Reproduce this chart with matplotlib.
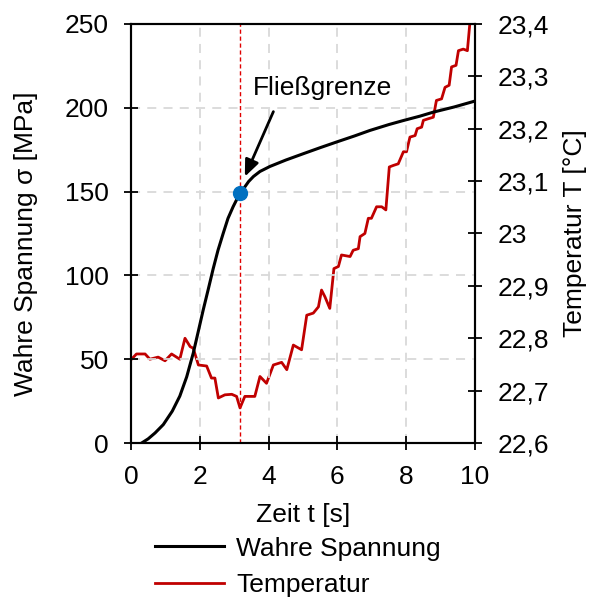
import matplotlib
matplotlib.use("Agg")
import matplotlib.pyplot as plt
from matplotlib.ticker import FuncFormatter

plt.rcParams['font.family'] = ['Liberation Sans', 'DejaVu Sans']

# True stress over time
t_stress = [0.31, 0.5, 0.7, 0.94, 1.2, 1.42, 1.62, 1.81, 1.95, 2.10, 2.25, 2.39,
            2.53, 2.68, 2.82, 2.97, 3.08, 3.19, 3.30, 3.42, 3.56, 3.75, 4.04,
            4.5, 5.01, 5.5, 5.98, 6.5, 6.95, 7.5, 7.92, 8.4, 8.79, 9.4, 10.0]
sigma = [0.0, 2.5, 6.0, 11.0, 19.0, 28.0, 39.5, 53.6, 66.0, 79.4, 92.0, 104.0,
         115.0, 125.0, 134.0, 141.0, 145.5, 149.0, 152.5, 156.0, 159.0, 162.0, 165.0,
         168.8, 172.6, 176.2, 179.6, 183.2, 186.5, 190.0, 192.4, 195.0, 197.4, 200.5, 204.0]

# Specimen temperature over time
t_temp = [0.0, 0.16, 0.41, 0.55, 0.79, 0.99, 1.18, 1.42, 1.57, 1.72, 1.81, 1.96,
          2.20, 2.34, 2.44, 2.54, 2.73, 2.93, 3.07, 3.17, 3.31, 3.60, 3.75, 3.94,
          4.14, 4.38, 4.53, 4.72, 4.96, 5.11, 5.30, 5.45, 5.54, 5.64, 5.78, 5.90,
          6.03, 6.12, 6.37, 6.46, 6.61, 6.66, 6.80, 6.90, 6.99, 7.14, 7.29, 7.41,
          7.51, 7.63, 7.77, 7.92, 8.01, 8.11, 8.26, 8.32, 8.45, 8.50, 8.64, 8.79,
          8.88, 9.03, 9.13, 9.25, 9.32, 9.45, 9.52, 9.66, 9.78, 9.85, 9.92]
temp = [22.759, 22.770, 22.770, 22.760, 22.764, 22.757, 22.770, 22.760, 22.800, 22.784,
        22.781, 22.749, 22.747, 22.724, 22.724, 22.686, 22.692, 22.693, 22.689, 22.667,
        22.689, 22.689, 22.727, 22.714, 22.749, 22.754, 22.740, 22.787, 22.778, 22.844,
        22.848, 22.860, 22.892, 22.879, 22.857, 22.933, 22.937, 22.959, 22.956, 22.968,
        22.971, 22.994, 23.000, 23.029, 23.029, 23.051, 23.051, 23.045, 23.127, 23.130,
        23.133, 23.156, 23.156, 23.184, 23.187, 23.200, 23.203, 23.216, 23.219, 23.222,
        23.254, 23.257, 23.279, 23.283, 23.318, 23.321, 23.349, 23.352, 23.349, 23.400,
        23.45]

# Yield point and its annotation
t_yield = 3.17
sigma_yield = 149.0
label_pos = (5.58, 212.0)
arrow_tail = (4.14, 197.7)
arrow_tip = (3.31, 158.9)

FS = 19

fig = plt.figure(figsize=(5.9, 5.99), dpi=100)
ax = fig.add_axes([0.222, 0.2604, 0.583, 0.6996])
ax2 = ax.twinx()

ax.set_xlim(0, 10)
ax.set_ylim(0, 250)
ax2.set_ylim(22.6, 23.4)

ax.grid(True, color='#d9d9d9', linestyle=(0, (5, 4)), linewidth=1.3)
ax.set_axisbelow(True)

ax.axvline(t_yield, color='#e00000', linestyle=(0, (3, 2)), linewidth=1.0, zorder=2)

l1, = ax.plot(t_stress, sigma, color='black', linewidth=2.2, zorder=3)
l2, = ax2.plot(t_temp, temp, color='#c00000', linewidth=2, zorder=2)
ax2.set_zorder(ax.get_zorder() - 1)
ax.patch.set_visible(False)
ax2.patch.set_visible(True)

ax.plot([t_yield], [sigma_yield], 'o', color='#0070c0', markersize=10, zorder=5)

ax.text(*label_pos, 'Fließgrenze', fontsize=FS, ha='center', va='center', zorder=6,
        bbox=dict(boxstyle='square,pad=0.15', fc='white', ec='none'))
ax.annotate('', xy=arrow_tip, xytext=arrow_tail,
            arrowprops=dict(arrowstyle='-|>,head_length=1.0,head_width=0.42',
                            color='black', lw=2, shrinkA=0, shrinkB=0),
            zorder=6)

ax.set_xticks([0, 2, 4, 6, 8, 10])
ax.set_yticks([0, 50, 100, 150, 200, 250])
ax2.set_yticks([22.6, 22.7, 22.8, 22.9, 23.0, 23.1, 23.2, 23.3, 23.4])
ax2.yaxis.set_major_formatter(FuncFormatter(lambda v, p: f"{v:g}".replace('.', ',')))

for a in (ax, ax2):
    a.tick_params(labelsize=FS, width=1.3, length=10, direction='inout', pad=11)
    for s in a.spines.values():
        s.set_linewidth(1.5)

ax.set_xlabel('Zeit t [s]', fontsize=FS)
ax.set_ylabel('Wahre Spannung σ [MPa]', fontsize=FS)
ax2.set_ylabel('Temperatur T [°C]', fontsize=FS)
ax.xaxis.set_label_coords(0.5, -0.142)
ax.yaxis.set_label_coords(-0.270, 0.475)
ax2.yaxis.set_label_coords(1.256, 0.5)

fig.legend([l1, l2], ['Wahre Spannung', 'Temperatur'], loc='upper left',
           bbox_to_anchor=(0.2635, 0.104), frameon=False, fontsize=FS,
           handlelength=2.6, handletextpad=0.45, labelspacing=0.48,
           borderaxespad=0, borderpad=0)

fig.savefig('out.png', dpi=100)
